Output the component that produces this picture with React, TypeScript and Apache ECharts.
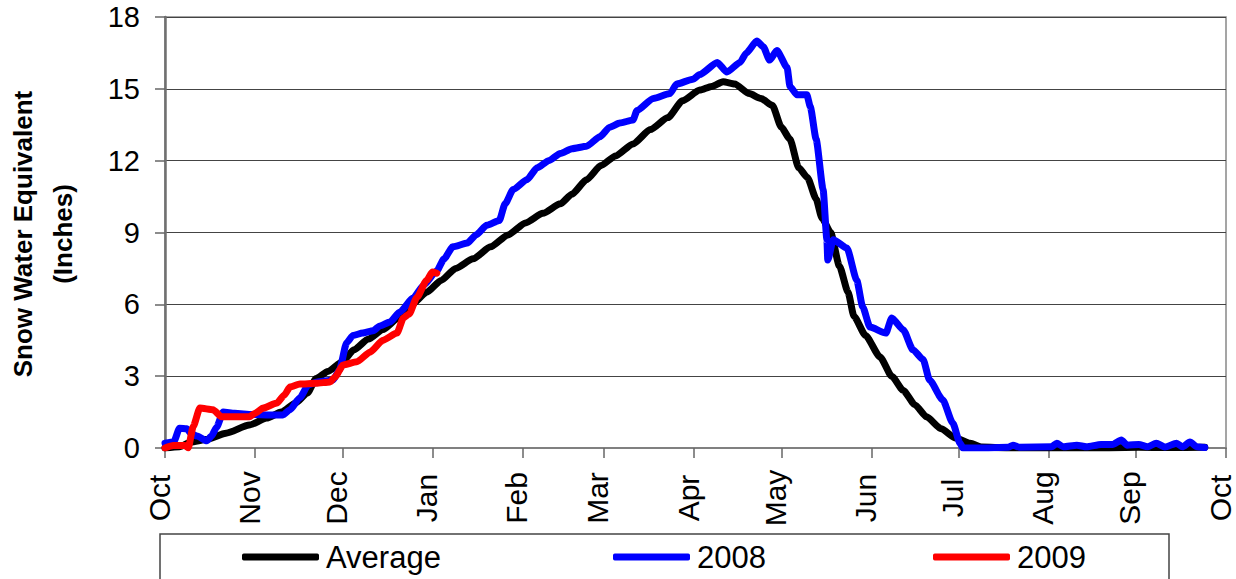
import React, { useEffect, useRef } from "react";
import * as echarts from "echarts";

// Day of water year (0 = Oct 1) at which each month starts
const MONTH_TICKS = [0, 31, 61, 92, 123, 151, 182, 212, 243, 273, 304, 334, 365];
const MONTH_LABELS = ["Oct", "Nov", "Dec", "Jan", "Feb", "Mar", "Apr", "May", "Jun", "Jul", "Aug", "Sep", "Oct"];

const Y_MIN = 0;
const Y_MAX = 18;
const Y_STEP = 3;

const SERIES_NAMES = ["Average", "2008", "2009"];
const SERIES_COLORS = ["#000000", "#0000ff", "#ff0000"];

// [day of water year, snow water equivalent (inches)]
const AVERAGE: [number, number][] = [
  [0, 0], [5, 0.05], [9, 0.25], [14, 0.35], [21, 0.62], [29, 0.96], [35, 1.25], [40, 1.5],
  [45, 1.88], [49, 2.3], [52, 2.9], [56, 3.2], [61, 3.6], [65, 4.1], [70, 4.55], [75, 4.95],
  [80, 5.4], [85, 6.0], [90, 6.5], [95, 7.0], [100, 7.5], [106, 7.9], [112, 8.4], [118, 8.9],
  [124, 9.4], [130, 9.8], [136, 10.2], [140, 10.6], [145, 11.2], [150, 11.8], [155, 12.2],
  [161, 12.7], [167, 13.3], [173, 13.8], [178, 14.5], [184, 14.95], [188, 15.1], [192, 15.3],
  [196, 15.2], [201, 14.8], [205, 14.6], [209, 14.3], [212, 13.4], [215, 12.9], [218, 11.7],
  [221, 11.3], [224, 10.4], [226, 9.6], [229, 9.0], [232, 7.6], [235, 6.5], [237, 5.5],
  [241, 4.7], [246, 3.8], [250, 3.0], [254, 2.4], [258, 1.8], [262, 1.3], [267, 0.8],
  [272, 0.42], [277, 0.2], [281, 0.04], [290, 0], [320, 0], [335, 0.03], [345, 0.02], [357.7, 0.03],
];

const WY2008: [number, number][] = [
  [0, 0.2], [3, 0.25], [5, 0.83], [7.5, 0.8], [9, 0.6], [11, 0.5], [14.4, 0.3], [16, 0.5],
  [17.8, 0.88], [20, 1.5], [24, 1.45], [30, 1.4], [36, 1.38], [40.6, 1.38], [43, 1.6],
  [46.4, 2.1], [49.3, 2.63], [52, 2.75], [57.8, 2.84], [60, 3.26], [62.5, 4.4], [64.7, 4.7],
  [68, 4.8], [71.6, 4.9], [74, 5.1], [77.4, 5.26], [80.8, 5.68], [85.3, 6.26], [89, 6.8],
  [93.5, 7.4], [96, 7.9], [99, 8.4], [104, 8.56], [107, 8.9], [110.7, 9.3], [115, 9.5],
  [117, 10.2], [119.8, 10.8], [124.5, 11.2], [128, 11.7], [132, 12.0], [136, 12.3], [140, 12.5],
  [145, 12.6], [149.6, 13.0], [153, 13.4], [156.5, 13.57], [161, 13.7], [162.4, 14.1],
  [168, 14.6], [173.7, 14.8], [176, 15.2], [181.6, 15.4], [184, 15.6], [190, 16.1],
  [193.3, 15.7], [197.8, 16.1], [200, 16.5], [203.6, 17.0], [205.8, 16.76], [208, 16.2],
  [210.5, 16.6], [214, 15.9], [215, 15.1], [217.4, 14.75], [220.8, 14.75], [222, 14.25],
  [224, 12.9], [226.4, 10.8], [227.7, 8.7], [228, 7.85], [229.9, 8.7], [234.6, 8.35],
  [238, 7.0], [240, 5.9], [242.5, 5.05], [248, 4.8], [250, 5.43], [254, 4.93], [257.3, 4.1],
  [260.8, 3.7], [263, 2.84], [267.6, 2.0], [271, 1.04], [273.5, 0.2], [274.5, 0], [280, 0],
  [290, 0.03], [291.7, 0.12], [294, 0.03], [305, 0.05], [306.8, 0.2], [309, 0.05],
  [313.7, 0.12], [317, 0.05], [322, 0.15], [326, 0.15], [329, 0.33], [331, 0.12], [335, 0.15],
  [338, 0.05], [341, 0.2], [344, 0.04], [348, 0.2], [350, 0.05], [352.6, 0.25], [355, 0.05],
  [357.7, 0.02],
];

const WY2009: [number, number][] = [
  [0, 0], [2.8, 0.1], [6.9, 0.1], [8, 0], [9.7, 0.9], [12, 1.67], [16.5, 1.6], [19.5, 1.3],
  [29, 1.3], [31, 1.45], [33.8, 1.67], [38.5, 1.88], [41, 2.2], [43, 2.55], [46.4, 2.67],
  [52, 2.7], [56.8, 2.76], [58.5, 2.97], [61.3, 3.47], [66, 3.6], [70.5, 4.0], [75, 4.5],
  [79.8, 4.8], [82, 5.43], [84, 5.6], [86.7, 6.3], [90, 7.0], [92, 7.35], [93.5, 7.3],
];

const FONT = "'Liberation Sans', Arial, sans-serif";

export default function App() {
  const ref = useRef<HTMLDivElement>(null);

  useEffect(() => {
    if (!ref.current) return;
    const chart = echarts.init(ref.current, null, { renderer: "svg" });
    const seriesData = [AVERAGE, WY2008, WY2009];
    const legendLefts = [242, 613, 933];

    chart.setOption({
      animation: false,
      backgroundColor: "#ffffff",
      grid: {
        left: 165,
        right: 10,
        top: 17,
        bottom: 131,
        show: true,
        borderColor: "#888888",
        borderWidth: 1.5,
        backgroundColor: "transparent",
      },
      xAxis: {
        type: "value",
        min: 0,
        max: 365,
        axisLine: { show: true, onZero: false, lineStyle: { color: "#808080", width: 2 } },
        axisTick: {
          show: true,
          customValues: MONTH_TICKS,
          length: 10,
          lineStyle: { color: "#666666", width: 1.5 },
        },
        axisLabel: {
          customValues: MONTH_TICKS,
          formatter: (v: number) => MONTH_LABELS[MONTH_TICKS.indexOf(v)] ?? "",
          rotate: 90,
          align: "center",
          verticalAlign: "bottom",
          lineHeight: 12,
          margin: 50,
          fontSize: 30,
          fontFamily: FONT,
          color: "#000000",
        },
        splitLine: { show: false },
      },
      yAxis: {
        type: "value",
        min: Y_MIN,
        max: Y_MAX,
        interval: Y_STEP,
        axisLine: { show: true, lineStyle: { color: "#707070", width: 2.5 } },
        axisTick: { show: true, length: 10, lineStyle: { color: "#666666", width: 1.5 } },
        axisLabel: { margin: 25, fontSize: 29, fontFamily: FONT, color: "#000000" },
        splitLine: { show: true, lineStyle: { color: "#444444", width: 1 } },
      },
      legend: SERIES_NAMES.map((name, i) => ({
        data: [{ name, icon: "roundRect", itemStyle: { color: SERIES_COLORS[i] } }],
        left: legendLefts[i],
        top: 539,
        padding: 0,
        itemWidth: 77,
        itemHeight: 7,
        textStyle: {
          fontSize: 31,
          fontFamily: FONT,
          color: "#000000",
          lineHeight: 36,
          padding: [0, 0, 0, 2],
        },
      })),
      graphic: [
        {
          type: "text",
          x: 43,
          y: 234,
          rotation: Math.PI / 2,
          style: {
            text: "Snow Water Equivalent\n(Inches)",
            fontSize: 26,
            fontWeight: "bold",
            fontFamily: FONT,
            align: "center",
            verticalAlign: "middle",
            lineHeight: 40,
            fill: "#000000",
          },
        },
        {
          type: "rect",
          shape: { x: 160, y: 534, width: 1009, height: 70 },
          style: { fill: "none", stroke: "#444444", lineWidth: 1.5 },
          silent: true,
        },
      ],
      series: SERIES_NAMES.map((name, i) => ({
        name,
        type: "line",
        data: seriesData[i],
        symbol: "none",
        showSymbol: false,
        smooth: 0.2,
        smoothMonotone: "x",
        lineStyle: { color: SERIES_COLORS[i], width: 7, cap: "round", join: "round" },
        itemStyle: { color: SERIES_COLORS[i] },
        z: 2 + i,
      })),
    });

    return () => chart.dispose();
  }, []);

  return (
    <div
      ref={ref}
      style={{ position: "fixed", left: 0, top: 0, width: 1236, height: 579, background: "#ffffff" }}
    />
  );
}
